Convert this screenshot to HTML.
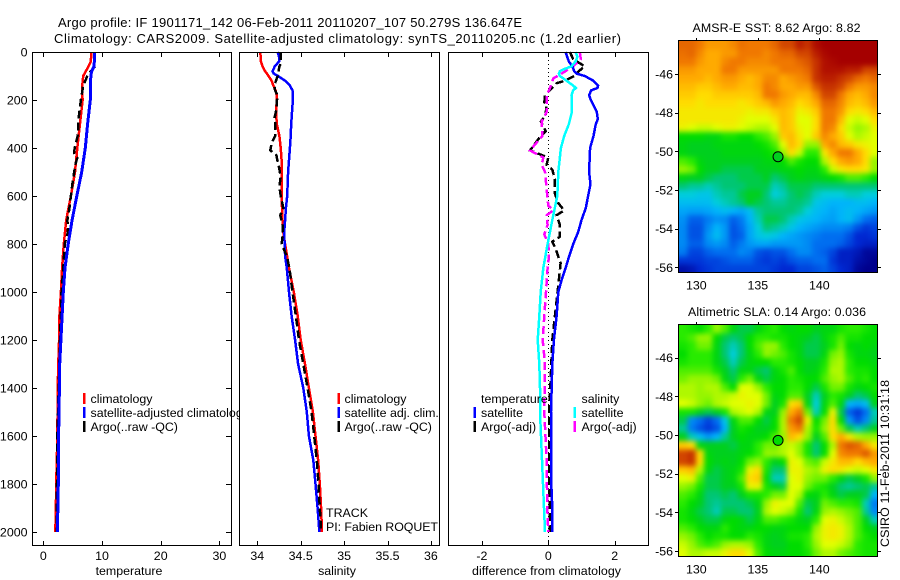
<!DOCTYPE html>
<html lang="en">
<head>
<meta charset="utf-8">
<title>Argo profile 1901171_142</title>
<style>
html,body{margin:0;padding:0;background:#fff;}
svg{display:block;font-family:"Liberation Sans",sans-serif;font-size:12.4px;fill:#000;}
text{fill:#000;}
.frame{fill:none;stroke:#000;stroke-width:1;shape-rendering:crispEdges;}
.bg{fill:#fff;stroke:none;}
.series{fill:none;stroke-linejoin:miter;shape-rendering:crispEdges;}
.tick{stroke:#000;stroke-width:1;shape-rendering:crispEdges;}
.bar{shape-rendering:crispEdges;}
</style>
</head>
<body>
<svg id="chart" xmlns="http://www.w3.org/2000/svg" width="900" height="580" viewBox="0 0 900 580">
  <defs>
    <filter id="cell-smooth" x="-10%" y="-10%" width="120%" height="120%" color-interpolation-filters="sRGB">
      <feGaussianBlur stdDeviation="2.6"/>
    </filter>
    <clipPath id="sst-clip"><rect x="679" y="41" width="199" height="232"/></clipPath>
    <clipPath id="sla-clip"><rect x="679" y="325" width="199" height="232"/></clipPath>
  </defs>
  <rect width="900" height="580" fill="#fff"/>
  <text x="58" y="27" font-size="13" textLength="464" lengthAdjust="spacing">Argo profile: IF 1901171_142 06-Feb-2011 20110207_107 50.279S 136.647E</text>
  <text x="54" y="43" font-size="13" textLength="567" lengthAdjust="spacing">Climatology: CARS2009. Satellite-adjusted climatology: synTS_20110205.nc (1.2d earlier)</text>

  <g id="panel-temp">
    <rect class="bg" x="32.5" y="52.5" width="199" height="493"/>
    <g id="temp-lines"></g>
    <g id="temp-ticks"></g>
    <rect class="frame" x="32.5" y="52.5" width="199" height="493"/>
    <text x="129" y="575" text-anchor="middle">temperature</text>
    <g>
      <rect class="bar" x="83" y="393" width="2.5" height="11" fill="#f00"/>
      <text x="90.5" y="403">climatology</text>
      <rect class="bar" x="83" y="407" width="2.5" height="11" fill="#00f"/>
      <text x="90.5" y="417">satellite-adjusted climatology</text>
      <rect class="bar" x="83" y="421" width="2.5" height="11" fill="#000"/>
      <text x="90.5" y="431">Argo(..raw -QC)</text>
    </g>
  </g>

  <g id="panel-sal">
    <rect class="bg" x="239.5" y="52.5" width="200" height="493"/>
    <g id="sal-lines"></g>
    <g id="sal-ticks"></g>
    <rect class="frame" x="239.5" y="52.5" width="200" height="493"/>
    <text x="337" y="575" text-anchor="middle">salinity</text>
    <g>
      <rect class="bar" x="337.5" y="393" width="2.5" height="11" fill="#f00"/>
      <text x="344.5" y="403">climatology</text>
      <rect class="bar" x="337.5" y="407" width="2.5" height="11" fill="#00f"/>
      <text x="344.5" y="417">satellite adj. clim.</text>
      <rect class="bar" x="337.5" y="421" width="2.5" height="11" fill="#000"/>
      <text x="344.5" y="431">Argo(..raw -QC)</text>
    </g>
    <text x="326" y="517">TRACK</text>
    <text x="326" y="531" textLength="112" lengthAdjust="spacing">PI: Fabien ROQUET</text>
  </g>

  <g id="panel-diff">
    <rect class="bg" x="448.5" y="52.5" width="200" height="493"/>
    <g id="diff-lines"></g>
    <g id="diff-ticks"></g>
    <rect class="frame" x="448.5" y="52.5" width="200" height="493"/>
    <text x="546.5" y="575" text-anchor="middle" textLength="149" lengthAdjust="spacing">difference from climatology</text>
    <g>
      <text x="481" y="403">temperature</text>
      <rect class="bar" x="473.5" y="407" width="2.5" height="11" fill="#00f"/>
      <text x="481" y="417">satellite</text>
      <rect class="bar" x="473.5" y="421" width="2.5" height="11" fill="#000"/>
      <text x="481" y="431">Argo(-adj)</text>
      <text x="581.5" y="403">salinity</text>
      <rect class="bar" x="573.5" y="407" width="2.5" height="11" fill="#0ff"/>
      <text x="581.5" y="417">satellite</text>
      <rect class="bar" x="573.5" y="421" width="2.5" height="11" fill="#f0f"/>
      <text x="581.5" y="431">Argo(-adj)</text>
    </g>
  </g>

  <g id="map-sst">
    <text x="776.5" y="32" text-anchor="middle" textLength="168" lengthAdjust="spacing">AMSR-E SST: 8.62 Argo: 8.82</text>
    <g clip-path="url(#sst-clip)"><g id="sst-cells" filter="url(#cell-smooth)"></g></g>
    <g id="sst-ticks"></g>
    <rect class="frame" x="678.5" y="40.5" width="199" height="232"/>
  </g>

  <g id="map-sla">
    <text x="777" y="316" text-anchor="middle" textLength="178" lengthAdjust="spacing">Altimetric SLA: 0.14 Argo: 0.036</text>
    <g clip-path="url(#sla-clip)"><g id="sla-cells" filter="url(#cell-smooth)"></g></g>
    <g id="sla-ticks"></g>
    <rect class="frame" x="678.5" y="324.5" width="199" height="232"/>
  </g>

  <text transform="translate(889,547) rotate(-90)" textLength="167" lengthAdjust="spacing">CSIRO 11-Feb-2011 10:31:18</text>
</svg>

<script>
var depthTickValues = [0,200,400,600,800,1000,1200,1400,1600,1800,2000];
var tempTickValues = [0,10,20,30];
var salTickValues = [34,34.5,35,35.5,36];
var salTickLabels = ['34','34.5','35','35.5','36'];
var diffTickValues = [-2,0,2];
var lonTickValues = [130,135,140];
var latTickValues = [-46,-48,-50,-52,-54,-56];

var tempClimDepth = [0,40,60,100,150,200,400,500,600,700,800,900,1000,1100,1200,1300,1400,1600,1700,1800,1900,2000];
var tempClimValues = [8.2,8.1,7.7,6.8,6.6,6.7,5.8,5.4,4.7,3.9,3.5,3.2,3.0,2.75,2.7,2.55,2.45,2.4,2.3,2.2,2.15,2.05];
var tempSatDepth = [0,60,80,100,200,300,400,500,600,700,800,900,1000,1100,1200,1300,1400,1600,1800,2000];
var tempSatValues = [8.75,8.65,8.25,8.1,8.0,7.55,7.15,6.55,5.7,4.9,4.25,3.7,3.4,3.2,3.0,2.8,2.75,2.6,2.55,2.4];
var tempArgoDepth = [60,80,100,140,200,280,340,400,420,440,470,540,600,660,700,750,800,900,1000,1200,1600,1900,2000];
var tempArgoValues = [8.8,8.1,7.5,6.8,6.4,6.0,5.95,5.35,5.25,5.8,5.45,5.0,4.7,4.4,4.1,4.2,3.65,3.4,3.1,2.85,2.4,2.3,2.3];

var salClimDepth = [0,40,60,80,100,120,140,160,180,200,250,300,350,400,450,500,600,700,750,800,900,1000,1100,1200,1300,1400,1500,1600,1700,1800,1900,2000];
var salClimValues = [34.035,34.043,34.06,34.09,34.13,34.165,34.185,34.21,34.225,34.225,34.215,34.225,34.255,34.27,34.28,34.28,34.28,34.29,34.30,34.32,34.365,34.42,34.465,34.50,34.55,34.595,34.64,34.67,34.70,34.72,34.735,34.745];
var salSatDepth = [0,20,40,60,70,80,90,100,120,140,160,180,200,250,300,350,400,450,500,600,650,700,750,800,850,900,1000,1100,1200,1300,1400,1500,1600,1700,1800,1900,2000];
var salSatValues = [34.235,34.25,34.25,34.20,34.19,34.175,34.19,34.24,34.32,34.375,34.405,34.41,34.41,34.40,34.39,34.385,34.375,34.365,34.355,34.345,34.33,34.32,34.31,34.315,34.32,34.34,34.365,34.395,34.435,34.47,34.53,34.57,34.595,34.645,34.67,34.695,34.715];
var salArgoDepth = [0,50,60,100,140,160,180,240,280,300,350,380,410,430,450,480,520,560,600,650,680,720,760,800,850,900,1000,1100,1200,1300,1400,1500,1600,1700,1800,1900,2000];
var salArgoValues = [34.27,34.27,34.255,34.235,34.195,34.205,34.23,34.22,34.195,34.21,34.205,34.165,34.15,34.22,34.23,34.25,34.27,34.255,34.27,34.30,34.265,34.29,34.295,34.28,34.34,34.37,34.405,34.445,34.48,34.53,34.58,34.625,34.655,34.685,34.705,34.72,34.735];

var diffTempSatDepth = [0,20,40,60,80,90,100,120,140,150,160,180,200,250,280,300,350,400,500,550,600,650,700,750,800,850,900,950,1000,1100,1200,1300,1500,1600,1800,1900,2000];
var diffTempSatValues = [0.52,0.57,0.62,0.73,0.78,0.85,1.10,1.36,1.5,1.48,1.29,1.23,1.28,1.46,1.49,1.43,1.36,1.26,1.23,1.27,1.2,1.13,1.0,0.9,0.75,0.63,0.52,0.40,0.30,0.25,0.17,0.12,0.08,0.08,0.09,0.12,0.12];
var diffTempArgoDepth = [0,30,60,70,90,100,120,130,180,210,220,260,290,330,350,410,440,470,490,530,590,630,660,680,720,770,790,820,880,1000,1100,1200,1400,1500,1700,2000];
var diffTempArgoValues = [0.65,0.75,1.1,1.0,0.85,0.78,0.5,0.25,-0.10,-0.12,-0.05,-0.08,-0.22,-0.08,-0.23,-0.55,0,-0.05,0.12,0.2,0.2,0.3,0.48,0.25,0.35,0.35,0.12,0.22,0.37,0.28,0.2,0.12,0.06,0.02,0.02,0.05];
var diffSalSatDepth = [0,20,40,60,70,80,90,100,120,140,150,160,180,250,300,350,400,500,600,700,800,900,1000,1100,1200,1300,1400,1500,1600,1700,1800,1900,2000];
var diffSalSatValues = [0.82,0.88,0.82,0.7,0.5,0.35,0.32,0.35,0.55,0.75,0.83,0.75,0.7,0.71,0.62,0.48,0.38,0.3,0.27,0.12,-0.02,-0.15,-0.23,-0.27,-0.32,-0.27,-0.25,-0.25,-0.22,-0.19,-0.16,-0.13,-0.10];
var diffSalArgoDepth = [0,30,60,90,110,150,180,250,290,350,410,440,470,500,600,640,660,680,720,760,800,850,900,1000,1100,1200,1300,1500,1700,1900,2000];
var diffSalArgoValues = [0.95,0.98,0.75,0.4,0.15,0.05,-0.05,-0.05,-0.2,-0.18,-0.55,-0.15,-0.2,-0.1,-0.03,0,0.15,-0.05,-0.02,-0.12,0,0.02,-0.02,-0.07,-0.12,-0.17,-0.1,-0.12,-0.05,-0.03,0];

var argoLon = 136.647;
var argoLat = -50.279;
var argoSstLevel = 46;
var argoSlaLevel = 50;

var sstGrid = [
[86,86,84,80,80,80,82,85,84,84,84,86,90,90,94,92,97,100,100,100,100,100,100,100],
[85,86,82,78,78,80,80,84,84,84,82,84,86,86,90,90,94,98,100,100,100,100,100,100],
[84,84,80,78,78,82,84,84,82,82,82,84,84,84,86,88,92,96,98,100,100,100,100,100],
[80,80,78,78,78,84,84,80,80,80,80,80,84,84,84,86,92,96,96,96,94,94,90,90],
[78,78,78,76,78,80,80,78,76,78,82,82,78,80,82,84,92,94,94,92,90,86,84,86],
[76,76,74,74,76,78,78,76,76,78,84,82,78,78,80,80,88,92,92,90,84,80,80,82],
[74,74,72,72,74,74,74,74,74,76,84,84,80,78,76,76,82,90,90,84,78,76,78,82],
[72,72,70,72,72,72,72,70,72,74,76,80,78,76,72,74,78,86,86,82,76,74,76,80],
[70,70,70,70,70,70,70,70,68,70,70,74,76,74,68,70,74,84,84,80,72,70,72,76],
[70,70,70,70,70,70,70,68,66,66,66,70,76,74,66,66,72,84,84,76,66,64,66,72],
[68,66,64,64,66,68,68,66,64,62,62,66,76,74,68,66,72,84,82,72,64,60,62,68],
[50,50,50,48,48,52,52,50,50,54,56,60,74,76,70,66,74,82,78,74,66,62,64,66],
[48,46,46,46,48,48,48,48,48,50,52,56,66,76,72,60,60,78,82,76,74,70,68,66],
[48,46,46,46,46,48,48,48,48,48,50,52,60,72,64,54,54,70,78,84,84,78,72,66],
[56,54,48,46,46,46,46,46,46,46,48,48,50,56,52,50,50,62,72,78,80,78,72,60],
[60,58,50,46,46,44,44,44,44,46,46,46,48,48,50,48,48,54,64,70,72,72,70,60],
[48,46,46,44,42,42,42,44,44,44,46,42,44,46,48,46,46,48,50,52,56,56,54,50],
[42,40,40,38,40,42,42,42,44,44,44,38,40,44,44,44,42,42,42,42,42,42,42,42],
[36,36,34,34,38,40,40,44,46,46,42,36,38,42,44,42,38,36,36,36,38,38,36,36],
[32,32,32,32,36,38,40,42,46,44,42,40,40,42,42,40,34,32,30,30,30,32,32,30],
[28,27,27,28,30,32,30,28,32,40,42,42,42,42,40,36,32,30,28,30,32,30,28,26],
[25,18,18,22,25,24,18,22,30,38,44,44,42,38,34,32,30,28,27,30,32,26,20,18],
[24,16,16,24,30,26,16,20,28,36,42,40,38,34,30,28,26,24,24,24,22,16,12,14],
[24,16,16,26,32,26,16,18,28,34,36,34,30,28,26,24,22,20,20,20,16,10,10,12],
[24,18,18,24,26,24,18,22,26,28,28,26,26,26,26,24,20,20,20,18,14,10,8,8],
[22,14,14,18,20,20,20,24,22,16,14,16,16,20,24,24,20,18,14,8,8,6,2,2],
[12,12,12,14,14,16,18,18,18,14,12,14,12,16,18,18,20,20,12,8,8,4,2,0],
[4,6,10,12,14,14,14,14,14,14,14,12,10,10,14,14,16,18,14,10,8,2,0,0]
];

var slaGrid = [
[54,52,50,54,60,56,48,44,44,48,52,54,50,48,50,50,46,48,48,52,54,54,52,50],
[54,56,60,60,50,44,42,44,50,54,54,52,52,50,48,46,44,48,52,56,52,52,50,50],
[52,54,58,58,48,42,38,42,50,56,60,60,54,50,48,44,44,46,52,58,50,48,50,48],
[50,54,54,54,48,42,36,42,48,54,60,58,56,52,48,44,44,48,58,60,52,48,48,46],
[52,54,54,54,48,44,38,44,48,50,50,54,54,52,50,46,46,52,60,62,54,50,50,48],
[56,56,56,56,52,46,42,48,48,44,42,48,52,56,50,46,48,54,62,62,54,52,52,50],
[58,60,60,60,58,48,44,54,58,48,44,48,50,54,52,50,50,56,60,62,56,52,54,50],
[62,62,60,62,62,56,50,66,66,60,54,50,50,54,54,50,44,52,58,58,52,48,50,52],
[62,62,60,60,62,62,64,68,66,66,58,48,50,56,56,46,38,46,54,52,46,42,44,50],
[66,64,60,58,62,64,66,66,68,66,58,46,52,72,74,48,36,48,56,48,30,28,32,46],
[52,52,46,44,46,52,62,64,66,62,48,46,60,78,84,58,38,50,68,44,18,12,20,38],
[44,24,20,14,20,34,48,56,56,50,44,50,62,84,90,68,50,58,72,50,26,16,24,40],
[40,22,16,12,16,30,46,52,50,46,46,50,62,80,84,62,52,60,72,58,44,38,42,46],
[46,38,32,26,30,40,46,50,48,48,50,56,60,76,72,60,46,56,72,78,70,62,60,60],
[74,72,48,46,46,46,44,48,48,54,58,58,62,64,60,52,42,50,62,84,88,86,78,70],
[90,92,72,48,46,46,46,48,50,54,60,60,62,66,60,52,42,50,66,82,84,84,88,80],
[90,92,72,50,46,48,46,50,58,60,54,46,50,68,66,58,56,64,70,76,76,72,76,78],
[74,76,62,48,44,46,48,52,68,72,52,42,42,68,68,62,60,68,72,70,66,64,66,70],
[66,68,56,44,44,46,48,56,72,74,50,38,38,66,68,60,58,58,54,48,44,46,52,60],
[60,58,52,44,44,46,46,52,68,68,52,46,44,66,66,58,54,52,46,42,40,42,44,40],
[56,54,48,42,42,44,42,46,52,52,54,58,58,66,62,50,48,54,48,44,46,46,44,30],
[54,50,46,42,40,42,42,42,44,48,60,68,66,66,56,44,46,58,56,54,54,52,38,22],
[52,48,44,42,38,44,44,42,42,46,62,66,64,60,52,42,48,60,62,60,58,56,40,24],
[52,50,46,44,44,48,50,48,44,48,56,56,54,52,48,46,54,66,68,64,60,56,46,38],
[56,54,50,48,48,54,50,48,48,50,50,48,48,50,50,50,60,68,70,68,62,56,50,46],
[60,58,54,50,52,52,50,50,54,52,48,46,48,52,52,54,62,68,70,68,62,56,52,50],
[64,60,56,54,56,60,62,62,60,54,48,46,46,50,50,54,60,66,66,64,60,54,52,52],
[66,62,62,64,64,68,72,72,66,56,50,48,48,50,50,52,58,62,62,58,56,54,52,52]
];

var NS = 'http://www.w3.org/2000/svg';

function yDepth(d){ return 52 + d * 0.24; }
function xTemp(v){ return 43.3 + v * 5.87; }
function xSal(v){ return 257.3 + (v - 34) * 86.8; }
function xDiff(v){ return 548.3 + v * 33.2; }
function lonX(lon){ return 696.3 + (lon - 130) * 12.3; }
function latYSst(lat){ return 74 + (-46 - lat) * 19.33; }
function latYSla(lat){ return 357.7 + (-46 - lat) * 19.33; }

function makeEl(tag, parentId){
  var el = document.createElementNS(NS, tag);
  document.getElementById(parentId).appendChild(el);
  return el;
}

function drawLine(parentId, xFn, depths, values, color, width, dash){
  var pts = [];
  for (var i = 0; i < depths.length; i++) {
    pts.push(xFn(values[i]).toFixed(1) + ',' + yDepth(depths[i]).toFixed(1));
  }
  var el = makeEl('polyline', parentId);
  el.setAttribute('class', 'series');
  el.setAttribute('points', pts.join(' '));
  el.setAttribute('stroke', color);
  el.setAttribute('stroke-width', width);
  if (dash) el.setAttribute('stroke-dasharray', dash);
  return el;
}

function tickLine(parentId, x1, y1, x2, y2){
  var el = makeEl('line', parentId);
  el.setAttribute('class', 'tick');
  el.setAttribute('x1', x1);
  el.setAttribute('y1', y1);
  el.setAttribute('x2', x2);
  el.setAttribute('y2', y2);
  return el;
}

function tickText(parentId, x, y, anchor, str){
  var el = makeEl('text', parentId);
  el.setAttribute('x', x);
  el.setAttribute('y', y);
  el.setAttribute('text-anchor', anchor);
  el.textContent = str;
  return el;
}

function drawXAxis(parentId, xFn, values, labels){
  values.forEach(function(v, i){
    var x = Math.round(xFn(v)) + 0.5;
    var top = tickLine(parentId, x, 52, x, 57);
    
    
    var bottom = tickLine(parentId, x, 541, x, 546);
    
    
    var label = tickText(parentId, xFn(v), 560, 'middle', labels ? labels[i] : String(v));
    
    
  });
}

depthTickValues.forEach(function(d){
  var y = Math.round(yDepth(d)) + 0.5;
  var left = tickLine('temp-ticks', 32, y, 37, y);
  
  
  var right = tickLine('temp-ticks', 226, y, 231, y);
  
  
  var label = tickText('temp-ticks', 27.5, yDepth(d) + 4.5, 'end', String(d));
  
  
});
drawXAxis('temp-ticks', xTemp, tempTickValues);
drawXAxis('sal-ticks', xSal, salTickValues, salTickLabels);
drawXAxis('diff-ticks', xDiff, diffTickValues);

var l;
l = drawLine('temp-lines', xTemp, tempClimDepth, tempClimValues, '#f00', 2.5);


l = drawLine('temp-lines', xTemp, tempArgoDepth, tempArgoValues, '#000', 2.5, '8 4');


l = drawLine('temp-lines', xTemp, tempSatDepth, tempSatValues, '#00f', 3);



l = drawLine('sal-lines', xSal, salClimDepth, salClimValues, '#f00', 2.5);


l = drawLine('sal-lines', xSal, salSatDepth, salSatValues, '#00f', 2.5);


l = drawLine('sal-lines', xSal, salArgoDepth, salArgoValues, '#000', 2.5, '8 4');



var zero = makeEl('line', 'diff-lines');
zero.setAttribute('x1', xDiff(0));
zero.setAttribute('x2', xDiff(0));
zero.setAttribute('y1', 52);
zero.setAttribute('y2', 546);
zero.setAttribute('stroke', '#000');
zero.setAttribute('stroke-width', 1);
zero.setAttribute('stroke-dasharray', '1 3');
zero.setAttribute('shape-rendering', 'crispEdges');



l = drawLine('diff-lines', xDiff, diffTempArgoDepth, diffTempArgoValues, '#000', 2.5, '8 4');


l = drawLine('diff-lines', xDiff, diffSalArgoDepth, diffSalArgoValues, '#f0f', 2.5, '8 4');


l = drawLine('diff-lines', xDiff, diffTempSatDepth, diffTempSatValues, '#00f', 2.5);


l = drawLine('diff-lines', xDiff, diffSalSatDepth, diffSalSatValues, '#0ff', 2.5);



var colorStops = [
  [0,0,0,140],[10,0,40,210],[20,0,110,240],[30,0,180,250],[36,0,205,220],[42,0,198,115],
  [46,0,208,30],[50,0,220,0],[54,40,235,0],[60,150,245,0],[66,225,255,0],[72,255,220,0],[78,255,170,0],
  [84,240,120,0],[90,210,70,0],[95,180,20,0],[100,165,0,0]
];
function levelColor(v){
  v = Math.max(0, Math.min(100, v));
  for (var i = 1; i < colorStops.length; i++) {
    if (v <= colorStops[i][0]) {
      var a = colorStops[i-1], b = colorStops[i];
      var t = (v - a[0]) / (b[0] - a[0]);
      return 'rgb(' + Math.round(a[1]+(b[1]-a[1])*t) + ',' + Math.round(a[2]+(b[2]-a[2])*t) + ',' + Math.round(a[3]+(b[3]-a[3])*t) + ')';
    }
  }
  return 'rgb(165,0,0)';
}

var lonLeft = 128.62, lonRight = 144.8;
var latSpan = 232 / 19.33;
var edgeBleed = 12;

function drawHeat(parentId, grid, latY, latTop){
  var rows = grid.length, cols = grid[0].length;
  for (var r = 0; r < rows; r++) {
    for (var c = 0; c < cols; c++) {
      var x0 = lonX(lonLeft + (lonRight - lonLeft) * c / cols);
      var x1 = lonX(lonLeft + (lonRight - lonLeft) * (c + 1) / cols);
      var y0 = latY(latTop - latSpan * r / rows);
      var y1 = latY(latTop - latSpan * (r + 1) / rows);
      if (c === 0) x0 -= edgeBleed;
      if (c === cols - 1) x1 += edgeBleed;
      if (r === 0) y0 -= edgeBleed;
      if (r === rows - 1) y1 += edgeBleed;
      var cell = makeEl('rect', parentId);
      cell.setAttribute('x', x0.toFixed(2));
      cell.setAttribute('y', y0.toFixed(2));
      cell.setAttribute('width', (x1 - x0 + 0.4).toFixed(2));
      cell.setAttribute('height', (y1 - y0 + 0.4).toFixed(2));
      cell.setAttribute('fill', levelColor(grid[r][c]));
      cell.setAttribute('shape-rendering', 'crispEdges');
      
      
    }
  }
}

function drawMapAxes(parentId, latY, top, bottom, level){
  lonTickValues.forEach(function(lon){
    var x = Math.round(lonX(lon)) + 0.5;
    var t = tickLine(parentId, x, top - 3, x, top);
    
    
    var lab = tickText(parentId, lonX(lon), bottom + 16.5, 'middle', String(lon));
    
    
  });
  latTickValues.forEach(function(lat){
    var y = Math.round(latY(lat)) + 0.5;
    var t1 = tickLine(parentId, 675, y, 679, y);
    
    
    var t2 = tickLine(parentId, 878, y, 881, y);
    
    
    var lab = tickText(parentId, 673, latY(lat) + 4.5, 'end', String(lat));
    
    
  });
  var c = makeEl('circle', parentId);
  c.setAttribute('cx', lonX(argoLon));
  c.setAttribute('cy', latY(argoLat));
  c.setAttribute('r', 5);
  c.setAttribute('fill', levelColor(level));
  c.setAttribute('stroke', '#000');
  c.setAttribute('stroke-width', 1);
  
  
}

drawHeat('sst-cells', sstGrid, latYSst, -46 + 33 / 19.33);
drawMapAxes('sst-ticks', latYSst, 41, 273, argoSstLevel);
drawHeat('sla-cells', slaGrid, latYSla, -46 + 32.7 / 19.33);
drawMapAxes('sla-ticks', latYSla, 325, 557, argoSlaLevel);
</script>
</body>
</html>
